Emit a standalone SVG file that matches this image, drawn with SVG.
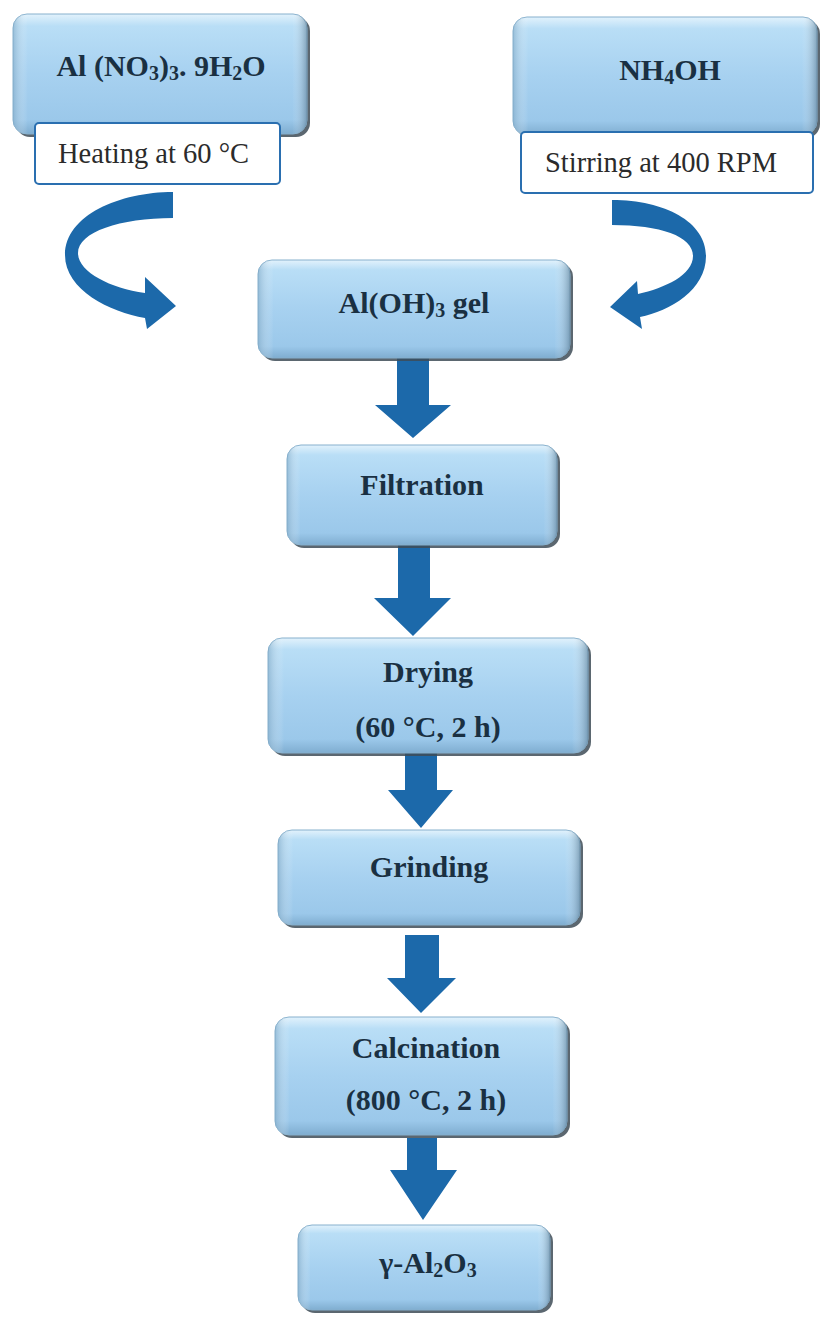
<svg xmlns="http://www.w3.org/2000/svg" width="826" height="1318" viewBox="0 0 826 1318">
<defs>
<linearGradient id="bg" x1="0" y1="0" x2="0" y2="1">
<stop offset="0" stop-color="#e2f2fc"/>
<stop offset="0.1" stop-color="#b9def6"/>
<stop offset="0.5" stop-color="#a7d1f0"/>
<stop offset="0.88" stop-color="#9bc8ea"/>
<stop offset="1" stop-color="#7fadd0"/>
</linearGradient>
<linearGradient id="side" x1="0" y1="0" x2="1" y2="0">
<stop offset="0" stop-color="#7ea7c4" stop-opacity="0.6"/>
<stop offset="0.05" stop-color="#ffffff" stop-opacity="0"/>
<stop offset="0.95" stop-color="#ffffff" stop-opacity="0"/>
<stop offset="1" stop-color="#4e6b80" stop-opacity="0.5"/>
</linearGradient>
<style>
.sh{fill:#3e4c57;opacity:0.85}
.bx{fill:url(#bg);stroke:#86b0cd;stroke-width:1}
.sd{fill:url(#side)}
.t{font-family:"Liberation Serif","Times New Roman",serif;font-weight:bold;font-size:30px;fill:#1a3042;text-anchor:middle}
.lb{fill:#ffffff;stroke:#2a6fb0;stroke-width:2}
.lt{font-family:"Liberation Serif","Times New Roman",serif;font-size:28.5px;fill:#2b2b2b}
.ar{fill:#1c69aa}
</style>
</defs>
<rect width="826" height="1318" fill="#ffffff"/>

<g id="connectors">
<path class="ar" d="M173,192 C120,192 65,215 65,255 C65,290 110,312 145,318 L147,329 L176,306 L145,277 L145,293 C110,288 78,272 78,253 C78,232 120,218 173,218 Z"/>
<path class="ar" d="M612,200 C665,200 706,222 706,256 C706,290 670,311 640,317 L642,329 L610,307 L637,281 L638,294 C665,288 693,275 693,256 C693,236 660,225 612,225 Z"/>
<polygon class="ar" points="397,358 429,358 429,405 451,405 413,438 375,405 397,405"/>
<polygon class="ar" points="398,545 430,545 430,598 451,598 413,636 374,598 398,598"/>
<polygon class="ar" points="405,753 437,753 437,790 453,790 421,828 388,790 405,790"/>
<polygon class="ar" points="405,935 439,935 439,978 456,978 421,1013 387,978 405,978"/>
<polygon class="ar" points="407,1138 437,1138 437,1170 457,1170 423,1220 390,1170 407,1170"/>
</g>

<g id="n-alno3">
<rect class="sh" x="16" y="17" width="294" height="120" rx="14"/>
<rect class="bx" x="13" y="14" width="294" height="120" rx="14"/>
<rect class="sd" x="13" y="14" width="294" height="120" rx="14"/>
<text class="t" x="161" y="76">Al (NO<tspan font-size="20" dy="4">3</tspan><tspan dy="-4">)</tspan><tspan font-size="20" dy="4">3</tspan><tspan dy="-4">. 9H</tspan><tspan font-size="20" dy="4">2</tspan><tspan dy="-4">O</tspan></text>
</g>
<g id="l-heating">
<rect class="lb" x="35" y="123" width="245" height="61" rx="4"/>
<text class="lt" x="58" y="163">Heating at 60 °C</text>
</g>

<g id="n-nh4oh">
<rect class="sh" x="516" y="20" width="304" height="118" rx="14"/>
<rect class="bx" x="513" y="17" width="304" height="118" rx="14"/>
<rect class="sd" x="513" y="17" width="304" height="118" rx="14"/>
<text class="t" x="670" y="80">NH<tspan font-size="20" dy="4">4</tspan><tspan dy="-4">OH</tspan></text>
</g>
<g id="l-stirring">
<rect class="lb" x="521" y="132" width="292" height="61" rx="4"/>
<text class="lt" x="545" y="172">Stirring at 400 RPM</text>
</g>

<g id="n-gel">
<rect class="sh" x="261" y="263" width="312" height="98" rx="14"/>
<rect class="bx" x="258" y="260" width="312" height="98" rx="14"/>
<rect class="sd" x="258" y="260" width="312" height="98" rx="14"/>
<text class="t" x="414" y="313">Al(OH)<tspan font-size="20" dy="4">3</tspan><tspan dy="-4"> gel</tspan></text>
</g>

<g id="n-filtration">
<rect class="sh" x="290" y="448" width="270" height="100" rx="14"/>
<rect class="bx" x="287" y="445" width="270" height="100" rx="14"/>
<rect class="sd" x="287" y="445" width="270" height="100" rx="14"/>
<text class="t" x="422" y="495">Filtration</text>
</g>

<g id="n-drying">
<rect class="sh" x="271" y="641" width="320" height="115" rx="14"/>
<rect class="bx" x="268" y="638" width="320" height="115" rx="14"/>
<rect class="sd" x="268" y="638" width="320" height="115" rx="14"/>
<text class="t" x="428" y="682">Drying</text>
<text class="t" x="428" y="737">(60 °C, 2 h)</text>
</g>

<g id="n-grinding">
<rect class="sh" x="281" y="833" width="302" height="95" rx="14"/>
<rect class="bx" x="278" y="830" width="302" height="95" rx="14"/>
<rect class="sd" x="278" y="830" width="302" height="95" rx="14"/>
<text class="t" x="429" y="877">Grinding</text>
</g>

<g id="n-calcination">
<rect class="sh" x="278" y="1020" width="292" height="118" rx="14"/>
<rect class="bx" x="275" y="1017" width="292" height="118" rx="14"/>
<rect class="sd" x="275" y="1017" width="292" height="118" rx="14"/>
<text class="t" x="426" y="1058">Calcination</text>
<text class="t" x="426" y="1110">(800 °C, 2 h)</text>
</g>

<g id="n-alumina">
<rect class="sh" x="301" y="1228" width="252" height="85" rx="14"/>
<rect class="bx" x="298" y="1225" width="252" height="85" rx="14"/>
<rect class="sd" x="298" y="1225" width="252" height="85" rx="14"/>
<text class="t" x="428" y="1273">γ-Al<tspan font-size="20" dy="4">2</tspan><tspan dy="-4">O</tspan><tspan font-size="20" dy="4">3</tspan></text>
</g>
</svg>
